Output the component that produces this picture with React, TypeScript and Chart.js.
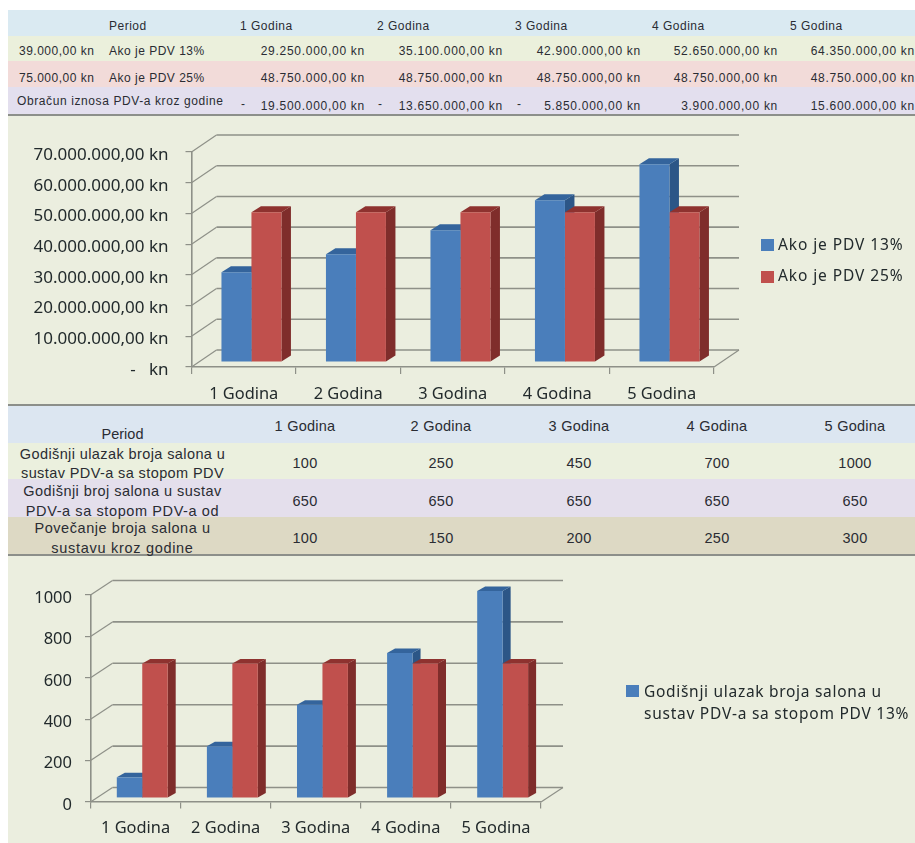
import React, { useEffect, useRef } from "react";
import { Chart, registerables } from "chart.js";

Chart.register(...registerables);

// ---------- data ----------
const categories = ["1 Godina", "2 Godina", "3 Godina", "4 Godina", "5 Godina"];
const pdv13 = [29250000, 35100000, 42900000, 52650000, 64350000];
const pdv25 = [48750000, 48750000, 48750000, 48750000, 48750000];
const moneyTicks = ["-   kn", "10.000.000,00 kn", "20.000.000,00 kn", "30.000.000,00 kn", "40.000.000,00 kn", "50.000.000,00 kn", "60.000.000,00 kn", "70.000.000,00 kn"];
const salonEntry = [100, 250, 450, 700, 1000];
const salonCount = [650, 650, 650, 650, 650];
const salonTicks = ["0", "200", "400", "600", "800", "1000"];
const label13 = "Ako je PDV 13%";
const label25 = "Ako je PDV 25%";
const salonLegend = ["Godišnji ulazak broja salona u", "sustav PDV-a sa stopom PDV 13%"];
const salonCountLabel = "Godišnji broj salona u sustav PDV-a sa stopom PDV-a od";

const row13Text = ["29.250.000,00 kn", "35.100.000,00 kn", "42.900.000,00 kn", "52.650.000,00 kn", "64.350.000,00 kn"];
const row25Text = ["48.750.000,00 kn", "48.750.000,00 kn", "48.750.000,00 kn", "48.750.000,00 kn", "48.750.000,00 kn"];
const rowVatText = ["19.500.000,00 kn", "13.650.000,00 kn", "5.850.000,00 kn", "3.900.000,00 kn", "15.600.000,00 kn"];
const rowVatMinus = [true, true, true, false, false];
const growth = [100, 150, 200, 250, 300];

// ---------- layout ----------
const PANEL = "#EBEEDF";
const BLUE = "#4A7EBB";
const RED = "#C0504D";
const GRID = "#8E9088";
const TEXT = "#222A2C";
const AXIS_FONT = "'Noto Sans', sans-serif";
const TABLE_FONT = "'Liberation Sans', Arial, sans-serif";
const col1Left = [240, 377, 515, 652, 790];
const col1Right = [365, 503, 641, 778, 915];
const minusX = [241, 378, 517];
const col2Center = [305, 441, 579, 717, 855];

const faces = [
  { side: "#2C5687", top: "#34649C" },
  { side: "#7F2D2B", top: "#8E322F" },
];

const depthPlugin = {
  id: "depth3d",
  beforeDatasetsDraw(chart: any, _a: any, o: any) {
    const { ctx, chartArea, scales } = chart;
    const { left, right } = chartArea;
    ctx.save();
    ctx.strokeStyle = GRID;
    for (const t of scales.y.ticks) {
      const y = scales.y.getPixelForValue(t.value);
      ctx.lineWidth = 1.6;
      ctx.beginPath();
      ctx.moveTo(left + o.wallX, y - o.wallY);
      ctx.lineTo(right + o.wallX, y - o.wallY);
      ctx.stroke();
      ctx.lineWidth = 1.2;
      ctx.beginPath();
      ctx.moveTo(left, y);
      ctx.lineTo(left + o.wallX, y - o.wallY);
      ctx.stroke();
    }
    const y0 = scales.y.getPixelForValue(0);
    ctx.lineWidth = 1.2;
    ctx.beginPath();
    ctx.moveTo(right, y0);
    ctx.lineTo(right + o.wallX, y0 - o.wallY);
    ctx.stroke();
    ctx.restore();

    ctx.save();
    ctx.translate(o.barX, o.barY);
    chart.data.datasets.forEach((_d: any, i: number) => {
      for (const el of chart.getDatasetMeta(i).data) {
        const { x, y, base, width } = el.getProps(["x", "y", "base", "width"]);
        const l = x - width / 2;
        const r = x + width / 2;
        ctx.fillStyle = faces[i].side;
        ctx.beginPath();
        ctx.moveTo(r, y);
        ctx.lineTo(r + o.sideX, y - o.sideY);
        ctx.lineTo(r + o.sideX, base - o.sideY);
        ctx.lineTo(r, base);
        ctx.closePath();
        ctx.fill();
        ctx.fillStyle = faces[i].top;
        ctx.beginPath();
        ctx.moveTo(l, y);
        ctx.lineTo(l + o.sideX, y - o.sideY);
        ctx.lineTo(r + o.sideX, y - o.sideY);
        ctx.lineTo(r, y);
        ctx.closePath();
        ctx.fill();
      }
    });
    ctx.restore();
  },
  beforeDatasetDraw(chart: any, _a: any, o: any) {
    chart.ctx.save();
    chart.ctx.translate(o.barX, o.barY);
  },
  afterDatasetDraw(chart: any) {
    chart.ctx.restore();
  },
};

type BarChartProps = {
  top: number;
  height: number;
  left: number;
  right: number;
  areaTop: number;
  areaBottom: number;
  a: number[];
  b: number[];
  aLabel: string;
  bLabel: string;
  max: number;
  step: number;
  ticks: string[];
  yFont: number;
  yPad: number;
  tickLen: number;
  xPad: number;
  catPct: number;
  depth: any;
};

function Bar3D(p: BarChartProps) {
  const ref = useRef<HTMLCanvasElement>(null);
  useEffect(() => {
    const chart = new Chart(ref.current as HTMLCanvasElement, {
      type: "bar",
      data: {
        labels: categories,
        datasets: [
          { label: p.aLabel, data: p.a, backgroundColor: BLUE, clip: false },
          { label: p.bLabel, data: p.b, backgroundColor: RED, clip: false },
        ],
      },
      options: {
        responsive: false,
        animation: false,
        devicePixelRatio: 1,
        layout: { padding: { top: p.areaTop, right: 915 - p.right, left: 0, bottom: 0 } },
        datasets: { bar: { barPercentage: 1, categoryPercentage: p.catPct } },
        plugins: { legend: { display: false }, tooltip: { enabled: false }, depth3d: p.depth },
        scales: {
          x: {
            afterFit: (s: any) => { s.height = p.height - p.areaBottom; },
            grid: { drawOnChartArea: false, tickLength: p.tickLen + 1, color: GRID, lineWidth: 1.2 },
            border: { color: GRID, width: 1.6 },
            ticks: { color: TEXT, font: { family: AXIS_FONT, size: 16.4 }, padding: p.xPad, maxRotation: 0 },
          },
          y: {
            min: 0,
            max: p.max,
            afterFit: (s: any) => { s.width = p.left; },
            grid: { drawOnChartArea: false, tickLength: p.tickLen, color: GRID, lineWidth: 1.2 },
            border: { color: GRID, width: 1.6 },
            ticks: {
              stepSize: p.step,
              color: TEXT,
              font: { family: AXIS_FONT, size: p.yFont },
              padding: p.yPad,
              labelOffset: 3,
              callback: (_v: any, i: number) => p.ticks[i],
            },
          },
        },
      } as any,
      plugins: [depthPlugin as any],
    });
    return () => chart.destroy();
  }, []);
  return (
    <canvas
      ref={ref}
      width={915}
      height={p.height}
      style={{ position: "absolute", left: 0, top: p.top, width: 915, height: p.height }}
    />
  );
}

function Band({ top, height, color, rule }: { top: number; height: number; color: string; rule?: boolean }) {
  return (
    <div
      style={{
        position: "absolute",
        left: 8,
        right: 0,
        top,
        height,
        background: color,
        borderBottom: rule ? "2px solid #8C8F8A" : undefined,
        boxSizing: "border-box",
      }}
    />
  );
}

function T({ x, y, right, center, size, sp, children }: any) {
  const style: React.CSSProperties = {
    position: "absolute",
    top: y,
    transform: center ? "translate(-50%,-50%)" : "translateY(-50%)",
    whiteSpace: "nowrap",
    fontFamily: TABLE_FONT,
    fontSize: size,
    letterSpacing: sp,
    color: "#2A2C33",
    lineHeight: 1,
  };
  if (right !== undefined) style.right = 915 - right;
  else style.left = x;
  return <div style={style}>{children}</div>;
}

function LegendText({ x, y, size, sp, children }: any) {
  return (
    <div
      style={{
        position: "absolute",
        left: x,
        top: y,
        transform: "translateY(-50%)",
        whiteSpace: "nowrap",
        fontFamily: AXIS_FONT,
        fontSize: size,
        letterSpacing: sp,
        color: TEXT,
        lineHeight: 1,
      }}
    >
      {children}
    </div>
  );
}

function Swatch({ x, y, color }: { x: number; y: number; color: string }) {
  return <div style={{ position: "absolute", left: x, top: y, width: 13, height: 12, background: color }} />;
}

export default function App() {
  const s1 = 12;
  const sp1 = 0.72;
  const s2 = 14.5;
  const sp2 = 0.25;
  return (
    <div
      style={{
        position: "absolute",
        left: 0,
        top: 0,
        width: 915,
        height: 843,
        overflow: "hidden",
        background: "#fff",
        filter: "blur(0.45px)",
      }}
    >
      <Band top={10} height={26} color="#DAEAF2" />
      <Band top={36} height={25} color="#EBF0DC" />
      <Band top={61} height={26} color="#F2DBD9" />
      <Band top={87} height={29} color="#E3DFEE" rule />
      <Band top={116} height={290} color={PANEL} rule />
      <Band top={406} height={37} color="#DCE6F1" />
      <Band top={443} height={36} color="#EBF0DE" />
      <Band top={479} height={38} color="#E4DFEC" />
      <Band top={517} height={39} color="#DDD9C4" rule />
      <Band top={556} height={287} color={PANEL} />

      <T x={109} y={26} size={s1} sp={0.5}>Period</T>
      {categories.map((c, i) => <T key={c} x={col1Left[i]} y={26} size={s1} sp={0.5}>{c}</T>)}
      <T x={19} y={51} size={s1} sp={0.5}>39.000,00 kn</T>
      <T x={109} y={51} size={s1} sp={0.5}>{label13}</T>
      {row13Text.map((v, i) => <T key={i} right={col1Right[i]} y={51} size={s1} sp={sp1}>{v}</T>)}
      <T x={19} y={78} size={s1} sp={0.5}>75.000,00 kn</T>
      <T x={109} y={78} size={s1} sp={0.5}>{label25}</T>
      {row25Text.map((v, i) => <T key={i} right={col1Right[i]} y={78} size={s1} sp={sp1}>{v}</T>)}
      <T x={17} y={101} size={s1} sp={0.6}>Obračun iznosa PDV-a kroz godine</T>
      {rowVatText.map((v, i) => <T key={i} right={col1Right[i]} y={106} size={s1} sp={sp1}>{v}</T>)}
      {rowVatMinus.map((m, i) => (m ? <T key={i} x={minusX[i]} y={104} size={s1}>-</T> : null))}

      <Bar3D
        top={116}
        height={288}
        left={191.5}
        right={714}
        areaTop={36}
        areaBottom={251}
        a={pdv13}
        b={pdv25}
        aLabel={label13}
        bLabel={label25}
        max={70000000}
        step={10000000}
        ticks={moneyTicks}
        yFont={17}
        yPad={17}
        tickLen={6}
        xPad={10}
        catPct={0.574}
        depth={{ wallX: 25, wallY: 17, barX: 7.7, barY: -5, sideX: 9.5, sideY: 6 }}
      />
      <Swatch x={761} y={239} color={BLUE} />
      <LegendText x={778} y={245} size={15.5} sp={0.9}>{label13}</LegendText>
      <Swatch x={761} y={270.5} color={RED} />
      <LegendText x={778} y={276} size={15.5} sp={0.9}>{label25}</LegendText>

      <T x={122.5} y={434} center size={s2} sp={0}>Period</T>
      {categories.map((c, i) => <T key={c} x={col2Center[i]} y={426} center size={s2} sp={sp2}>{c}</T>)}
      <T x={122.5} y={454} center size={s2} sp={0.4}>Godišnji ulazak broja salona u</T>
      <T x={122.5} y={473} center size={s2} sp={0.4}>sustav PDV-a sa stopom PDV</T>
      <T x={122.5} y={491} center size={s2} sp={0.45}>Godišnji broj salona u sustav</T>
      <T x={122.5} y={511} center size={s2} sp={0.6}>PDV-a sa stopom PDV-a od</T>
      <T x={122.5} y={528} center size={s2} sp={0.55}>Povečanje broja salona u</T>
      <T x={122.5} y={548} center size={s2} sp={0.7}>sustavu kroz godine</T>
      {salonEntry.map((v, i) => <T key={i} x={col2Center[i]} y={463} center size={s2} sp={sp2}>{v}</T>)}
      {salonCount.map((v, i) => <T key={i} x={col2Center[i]} y={501} center size={s2} sp={sp2}>{v}</T>)}
      {growth.map((v, i) => <T key={i} x={col2Center[i]} y={538} center size={s2} sp={sp2}>{v}</T>)}

      <Bar3D
        top={556}
        height={287}
        left={90.5}
        right={541}
        areaTop={39}
        areaBottom={246}
        a={salonEntry}
        b={salonCount}
        aLabel={salonLegend.join(" ")}
        bLabel={salonCountLabel}
        max={1000}
        step={200}
        ticks={salonTicks}
        yFont={16.5}
        yPad={13}
        tickLen={5.5}
        xPad={9.5}
        catPct={0.565}
        depth={{ wallX: 22, wallY: 14.5, barX: 6.7, barY: -4, sideX: 8, sideY: 4.5 }}
      />
      <Swatch x={626} y={685} color={BLUE} />
      <LegendText x={644} y={692} size={15.5} sp={0.7}>{salonLegend[0]}</LegendText>
      <LegendText x={644} y={714} size={15.5} sp={0.75}>{salonLegend[1]}</LegendText>
    </div>
  );
}
